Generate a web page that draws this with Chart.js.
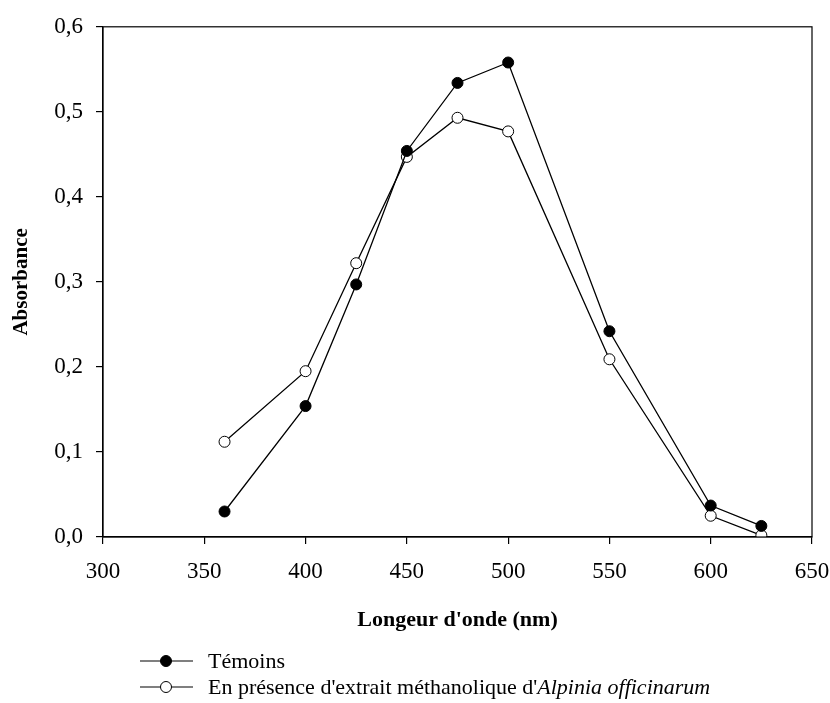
<!DOCTYPE html>
<html>
<head>
<meta charset="utf-8">
<script src="https://cdn.jsdelivr.net/npm/chart.js@4"></script>
<style>
  html, body { margin: 0; padding: 0; background: #fff; }
  #wrap { width: 830px; height: 703px; }
</style>
</head>
<body>
<div id="wrap"><canvas id="absChart" width="830" height="703"></canvas></div>
<script>
// wavelengths (nm)
var wavelengths = [360, 400, 425, 450, 475, 500, 550, 600, 625];
// absorbance, control
var temoins = [0.030, 0.154, 0.297, 0.454, 0.534, 0.558, 0.242, 0.037, 0.013];
// absorbance, with methanolic extract
var alpinia = [0.112, 0.195, 0.322, 0.447, 0.493, 0.477, 0.209, 0.025, 0.002];
var xTicks = [300, 350, 400, 450, 500, 550, 600, 650];
var yTicks = [0, 0.1, 0.2, 0.3, 0.4, 0.5, 0.6];

var serif = "'Liberation Serif', 'Times New Roman', serif";

function toPoints(xs, ys) {
    return xs.map(function(x, i) { return { x: x, y: ys[i] }; });
}

// legend entries: label split into [text, italic] parts
var legendItems = [
    { fill: '#000', parts: [['Témoins', false]] },
    { fill: '#fff', parts: [["En présence d'extrait méthanolique d'", false], ['Alpinia officinarum', true]] }
];

var framePlugin = {
    id: 'frame',
    afterDraw: function(chart) {
        var ctx = chart.ctx, a = chart.chartArea;
        ctx.save();
        ctx.strokeStyle = '#000';
        ctx.lineWidth = 1.2;
        ctx.strokeRect(a.left, a.top, a.right - a.left, a.bottom - a.top);

        // legend
        var lx = 140, ly = 661;
        legendItems.forEach(function(item, i) {
            var y = ly + i * 26;
            ctx.beginPath();
            ctx.moveTo(lx, y);
            ctx.lineTo(lx + 53, y);
            ctx.lineWidth = 1.2;
            ctx.stroke();
            ctx.beginPath();
            ctx.arc(lx + 26, y, 5.5, 0, Math.PI * 2);
            ctx.fillStyle = item.fill;
            ctx.fill();
            ctx.lineWidth = 1;
            ctx.stroke();
            var tx = lx + 68;
            ctx.fillStyle = '#000';
            ctx.textBaseline = 'middle';
            item.parts.forEach(function(p) {
                ctx.font = (p[1] ? 'italic ' : '') + '22px ' + serif;
                ctx.fillText(p[0], tx, y + 1);
                tx += ctx.measureText(p[0]).width;
            });
        });
        ctx.restore();
    }
};

var ctx1 = document.getElementById('absChart').getContext('2d');
var absChart = new Chart(ctx1, {
    type: 'line',
    data: {
        datasets: [{
            label: 'Témoins',
            data: toPoints(wavelengths, temoins),
            borderColor: '#000',
            borderWidth: 1.3,
            pointBackgroundColor: '#000',
            pointBorderColor: '#000',
            pointBorderWidth: 1,
            pointRadius: 5.5,
            tension: 0
        }, {
            label: "En présence d'extrait méthanolique d'Alpinia officinarum",
            data: toPoints(wavelengths, alpinia),
            borderColor: '#000',
            borderWidth: 1.3,
            pointBackgroundColor: '#fff',
            pointBorderColor: '#000',
            pointBorderWidth: 1,
            pointRadius: 5.5,
            tension: 0
        }]
    },
    options: {
        responsive: false,
        animation: false,
        layout: { padding: { left: 0, top: 26, right: 18, bottom: 69 } },
        plugins: {
            legend: { display: false },
            tooltip: { enabled: false }
        },
        scales: {
            x: {
                type: 'linear',
                min: 300,
                max: 650,
                afterBuildTicks: function(scale) {
                    scale.ticks = xTicks.map(function(v) { return { value: v }; });
                },
                afterFit: function(scale) {
                    scale.paddingLeft = 0;
                    scale.paddingRight = 0;
                },
                grid: { drawOnChartArea: false, drawTicks: true, tickLength: 7, color: '#000', lineWidth: 1.2 },
                border: { display: true, color: '#000', width: 1.2 },
                ticks: { color: '#000', padding: 14, maxRotation: 0, font: { family: serif, size: 23 } },
                title: {
                    display: true,
                    text: "Longeur d'onde (nm)",
                    color: '#000',
                    font: { family: serif, size: 22, weight: 'bold' },
                    padding: { top: 8, bottom: 0 }
                }
            },
            y: {
                min: 0,
                max: 0.6,
                afterBuildTicks: function(scale) {
                    scale.ticks = yTicks.map(function(v) { return { value: v }; });
                },
                afterFit: function(scale) { scale.width = 103; },
                grid: { drawOnChartArea: false, drawTicks: true, tickLength: 7, color: '#000', lineWidth: 1.2 },
                border: { display: true, color: '#000', width: 1.2 },
                ticks: {
                    color: '#000',
                    padding: 13,
                    font: { family: serif, size: 23 },
                    callback: function(v) { return v.toFixed(1).replace('.', ','); }
                },
                title: {
                    display: true,
                    text: 'Absorbance',
                    color: '#000',
                    font: { family: serif, size: 21, weight: 'bold' },
                    padding: { top: 9, bottom: 0 }
                }
            }
        }
    },
    plugins: [framePlugin]
});
</script>
</body>
</html>
